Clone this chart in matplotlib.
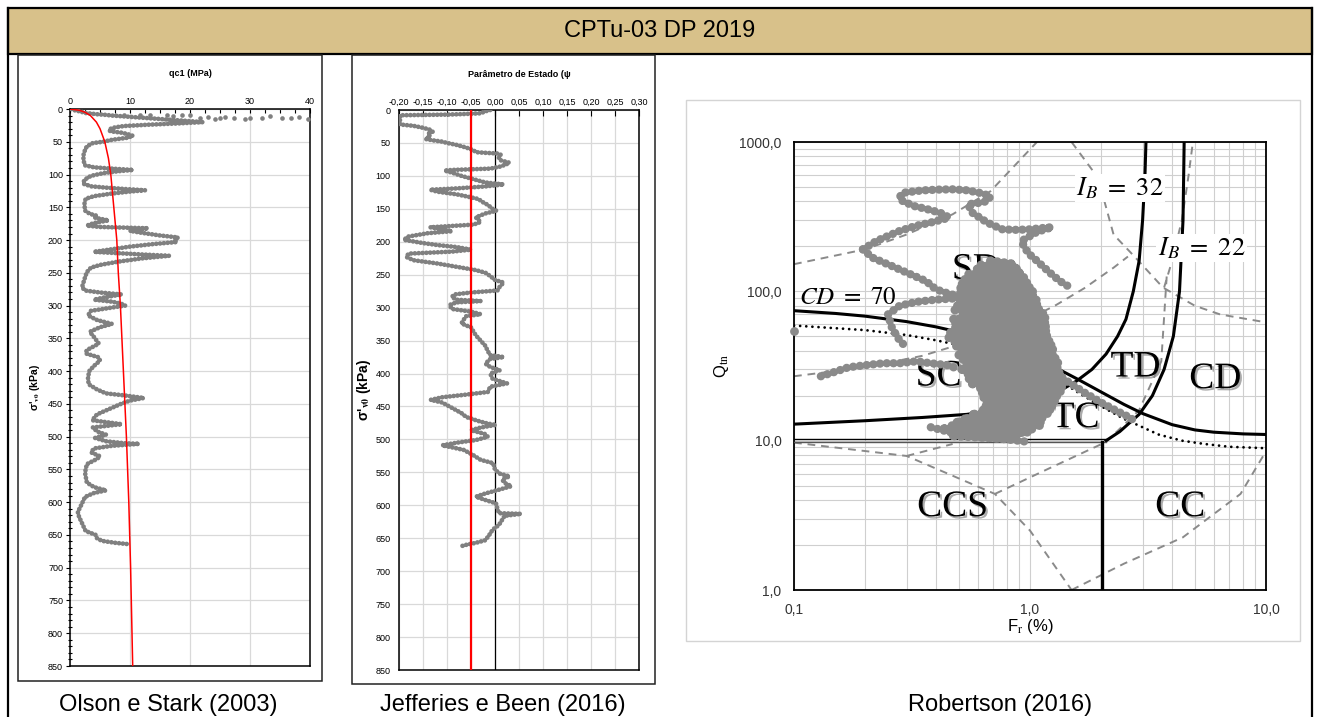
import matplotlib
matplotlib.use("Agg")
import matplotlib.pyplot as plt
import matplotlib.patheffects as pe
from matplotlib.patches import Rectangle

plt.rcParams['font.family'] = ['Liberation Sans', 'DejaVu Sans']
plt.rcParams['mathtext.fontset'] = 'stix'

W, H = 1317, 717
GRAY = '#808080'

# --- Olson e Stark (2003): qc1 (MPa) vs sigma'v0 (kPa) ---
sv_qc = [0, 2, 4, 6, 7, 8, 9, 10, 20, 22, 24, 26, 28, 31, 34, 36, 38, 41, 44, 47, 50, 52, 57, 65,
         72, 80, 86, 89, 91, 93, 95, 98, 102, 108, 114, 118, 120, 122, 124, 126, 129, 133, 137,
         145, 155, 160, 163, 166, 170, 174, 178, 180, 181, 182, 186, 189, 193, 196, 199, 203,
         206, 210, 214, 218, 220, 222, 224, 228, 233, 238, 242, 249, 260, 272, 277, 280, 283,
         287, 291, 294, 297, 300, 303, 308, 315, 322, 328, 333, 340, 348, 358, 368, 373, 379,
         384, 392, 400, 410, 420, 428, 434, 437, 441, 445, 450, 458, 466, 475, 481, 486, 492,
         497, 502, 507, 510, 511, 514, 518, 524, 530, 534, 542, 555, 570, 577, 582, 586, 592,
         602, 615, 622, 634, 644, 650, 655, 659, 662, 664]
qc1 = [0.2, 0.8, 1.8, 2.5, 3.5, 4.5, 6, 7, 22.2, 18, 13, 9, 7.5, 6.5, 6.7, 8.5, 9.5, 10.5, 9.5,
       7, 5.5, 3.8, 2.8, 2.4, 2.2, 2.3, 2.5, 4, 7, 10.5, 8, 5.5, 3.5, 2.4, 2.2, 3.5, 6, 9, 12.5,
       10, 7, 4, 2.6, 2.4, 2.5, 3.3, 4.5, 4.2, 6.4, 4, 2.8, 5, 9, 13, 10, 12, 15, 18, 17.5,
       17.8, 14, 10, 7, 4, 8, 12, 16.5, 12, 8, 5, 3.5, 2.8, 2.4, 2.0, 2.5, 5, 8.6, 6, 4, 7,
       8.5, 9.2, 7, 3.5, 3, 4.5, 7, 5, 3.3, 4, 4.8, 2.8, 2.6, 4.8, 5, 4, 3.2, 3.0, 3.1, 4.5,
       6, 9, 12.3, 10, 8.5, 6.5, 4.5, 3.7, 8.6, 3.8, 4.5, 6, 4.2, 6, 9, 11.5, 7, 4, 3.5, 5,
       4.5, 2.8, 2.5, 2.8, 4, 6, 4, 2.5, 2.0, 1.3, 1.5, 2.1, 2.6, 4.3, 4.5, 5.3, 7.5, 9.7]
surf_qc = [9, 11.7, 13.4, 16.1, 17.2, 18.6, 20, 21.7, 23, 24.2, 25, 25.8, 27.3, 29.2, 30, 32,
           33.3, 35.3, 36.9, 38.1, 39.7]
surf_sv = [9, 9, 9, 9, 10, 9, 9, 14, 12, 16, 13, 12, 14, 15, 13, 14, 11, 14, 13, 12, 15]
# limiting curve
os_sv = [0, 2, 5, 10, 20, 30, 50, 75, 100, 150, 200, 250, 300, 400, 500, 600, 700, 850]
os_qc = [0, 1.6, 2.5, 3.4, 4.4, 5.0, 5.8, 6.4, 6.8, 7.3, 7.8, 8.05, 8.4, 8.9, 9.4, 9.8, 10.1, 10.45]

# --- Jefferies e Been (2016): state parameter psi vs sigma'v0 ---
sv_psi = [0, 2, 5, 6, 7, 7.5, 8, 22, 24, 27, 30, 33, 36, 40, 44, 46, 48, 50, 53, 57, 61, 64, 65,
          66, 68, 72, 76, 80, 83, 86, 89, 90, 91, 92, 95, 100, 105, 110, 113, 116, 119, 121, 124,
          128, 131, 135, 140, 144, 150, 153, 157, 163, 170, 174, 176, 178, 181, 184, 187, 192,
          197, 202, 205, 208, 212, 215, 218, 223, 228, 233, 238, 243, 247, 252, 258, 262, 268,
          274, 277, 280, 284, 288, 290, 292, 296, 302, 306, 310, 313, 318, 324, 330, 336, 342,
          350, 358, 366, 372, 375, 378, 385, 390, 395, 400, 408, 415, 420, 428, 432, 436, 440,
          444, 452, 460, 466, 472, 476, 478, 482, 486, 492, 496, 501, 505, 509, 512, 516, 524,
          531, 536, 546, 552, 556, 561, 566, 571, 576, 582, 587, 592, 597, 605, 612, 613, 616,
          622, 630, 637, 643, 648, 653, 657, 660, 663]
psi = [-0.01, -0.02, -0.03, -0.06, -0.10, -0.15, -0.198, -0.198, -0.17, -0.15, -0.135, -0.13,
       -0.14, -0.135, -0.145, -0.13, -0.11, -0.10, -0.08, -0.06, -0.045, -0.04, -0.02, 0.005,
       0.012, 0.008, 0.01, 0.03, 0.022, 0.01, -0.01, -0.05, -0.09, -0.105, -0.09, -0.07,
       -0.045, -0.02, 0.018, -0.02, -0.08, -0.135, -0.12, -0.08, -0.06, -0.035, -0.025, -0.015,
       -0.005, 0.003, -0.02, -0.04, -0.03, -0.045, -0.09, -0.135, -0.11, -0.09, -0.14, -0.18,
       -0.19, -0.15, -0.12, -0.08, -0.05, -0.09, -0.18, -0.185, -0.17, -0.12, -0.08, -0.04,
       -0.02, -0.01, 0.0, 0.018, 0.01, 0.005, -0.05, -0.085, -0.09, -0.08, -0.03, -0.08,
       -0.095, -0.09, -0.05, -0.03, -0.06, -0.065, -0.07, -0.05, -0.045, -0.04, -0.03, -0.02,
       -0.015, -0.01, 0.018, -0.01, -0.02, -0.01, 0.01, -0.01, -0.005, 0.025, -0.01, -0.015,
       -0.06, -0.11, -0.134, -0.11, -0.09, -0.07, -0.06, -0.035, -0.015, 0.002, -0.03, -0.05,
       -0.02, -0.015, -0.04, -0.08, -0.11, -0.09, -0.065, -0.045, -0.03, -0.004, 0.0, 0.01,
       0.03, 0.015, 0.02, 0.034, 0.01, -0.02, -0.04, -0.02, 0.002, 0.005, 0.008, 0.054, 0.02,
       0.015, 0.008, -0.005, -0.01, -0.015, -0.02, -0.04, -0.06, -0.075]
psi_limit = -0.05

# --- Robertson (2016): Qtn vs Fr chart ---
ib32_fr = [0.1, 0.2, 0.35, 0.54, 0.7, 0.97, 1.3, 1.57, 1.83, 2.1, 2.35, 2.55, 2.74, 2.9, 3.0, 3.07, 3.1]
ib32_q = [12.9, 13.6, 14.3, 15, 16, 18, 21, 25, 30, 38, 50, 65, 100, 160, 300, 600, 1000]
ib22_fr = [2.1, 2.4, 2.9, 3.3, 3.7, 4.05, 4.3, 4.45, 4.5]
ib22_q = [10, 11.5, 15, 20, 30, 50, 100, 300, 1000]
cd70_fr = [0.1, 0.15, 0.2, 0.3, 0.4, 0.5, 0.7, 1.0, 1.3, 1.6, 2.0, 2.5, 3.0, 4.0, 5.0, 6.0, 8.0, 10]
cd70_q = [74.2, 71.1, 68.2, 62.7, 57.8, 53.3, 45.8, 37.0, 30.5, 25.7, 21.2, 17.5, 15.2, 12.8,
          11.8, 11.4, 11.1, 11.0]
dot_fr = [0.1, 0.2, 0.3, 0.4, 0.6, 0.8, 1.0, 1.3, 1.6, 2.0, 2.5, 2.9, 3.5, 4.4, 5.5, 7, 10]
dot_q = [59, 55, 51, 47, 41, 36, 32, 26, 21, 17, 14, 12.6, 11, 10, 9.5, 9.1, 8.9]
zone_fr = [[0.1, 0.2, 0.3, 0.47, 0.68, 0.85, 1.07],
           [1.5, 1.94, 2.26, 2.8, 3.66, 5.0, 6.4, 10],
           [0.1, 0.2, 0.35, 0.6, 1.0, 1.29, 1.7, 2.26, 2.6],
           [3.7, 4.0, 4.4, 4.7, 4.9],
           [0.1, 0.3, 0.71, 1.0, 1.5],
           [1.5, 2.5, 4.44, 7.8, 10],
           [0.71, 1.2, 2.1, 2.9, 3.6, 3.8],
           [0.3, 0.47]]
zone_q = [[152, 191, 240, 328, 468, 680, 1000],
          [1000, 577, 240, 168, 106, 80, 70, 62],
          [27, 31, 37, 48, 66, 81, 105, 144, 171],
          [106, 160, 300, 600, 1000],
          [9.7, 7.9, 4.4, 2.5, 1.0],
          [1.0, 1.5, 2.25, 4.4, 8.5],
          [4.4, 6.5, 9.8, 16, 34, 130],
          [7.9, 9.5]]
zone_names = ['SD', 'SC', 'TD', 'CD', 'TC', 'CCS', 'CC']
zone_lab_fr = [0.59, 0.41, 2.8, 6.1, 1.56, 0.47, 4.33]
zone_lab_q = [140, 27, 31, 25.9, 14.2, 3.6, 3.6]

# CPTu-03 points in Robertson chart: sequential trails and the main cluster
trail_fr = [[0.196, 0.223, 0.279, 0.33, 0.377, 0.453, 0.43, 0.38, 0.324, 0.29, 0.279, 0.289, 0.349,
             0.41, 0.47, 0.54, 0.61, 0.68, 0.66, 0.6, 0.546, 0.57, 0.66, 0.764, 0.88, 0.995, 1.12,
             1.24, 1.07, 0.92, 0.95, 0.995, 1.07, 1.15, 1.25, 1.34, 1.44],
            [0.196, 0.215, 0.259, 0.312, 0.363, 0.391, 0.42, 0.47, 0.5],
            [0.5, 0.4, 0.33, 0.28, 0.25, 0.26, 0.28, 0.3],
            [0.13, 0.15, 0.17, 0.2, 0.24, 0.28, 0.33, 0.38, 0.45, 0.5],
            [1.3, 1.44, 1.7, 2.0, 2.3, 2.6, 2.8],
            [0.38, 0.5, 0.65, 0.8, 0.99]]
trail_q = [[191, 217, 253, 275, 288, 311, 330, 350, 372, 400, 423, 457, 474, 480, 482, 475, 457,
            434, 402, 390, 383, 336, 288, 260, 258, 260, 265, 269, 250, 217, 195, 177, 160, 144,
            128, 117, 109],
           [191, 168, 148, 130, 117, 106, 100, 95, 90],
           [90, 88, 85, 80, 70, 57, 47, 42],
           [27, 29, 31, 32, 33, 33, 34, 33, 32, 30],
           [28, 25, 21, 18, 16, 14.5, 13.5],
           [12.3, 11, 10.5, 10.2, 9.8]]
single_fr = [0.1]
single_q = [54]
# cluster outline, read level by level (two interleaved passes)
blob_q = [160, 140, 120, 105, 92, 80, 70, 61, 53, 46, 40, 35, 30, 26, 22.5, 19.5, 17, 15, 13.3, 12, 10.8]
blob_left = [0.68, 0.58, 0.53, 0.5, 0.47, 0.49, 0.52, 0.47, 0.45, 0.47, 0.5, 0.52, 0.5, 0.55,
             0.6, 0.62, 0.64, 0.56, 0.48, 0.42, 0.46]
blob_right = [0.86, 0.93, 0.98, 1.03, 1.08, 1.12, 1.16, 1.18, 1.2, 1.24, 1.28, 1.32, 1.36, 1.4,
              1.36, 1.3, 1.22, 1.16, 1.1, 0.98, 0.85]
blob2_q = [150, 130, 112, 98, 86, 75, 65, 57, 49, 43, 37.5, 32.5, 28, 24, 21, 18, 16, 14, 12.6, 11.4]
blob2_left = [0.62, 0.55, 0.51, 0.5, 0.5, 0.48, 0.47, 0.47, 0.45, 0.48, 0.5, 0.53, 0.53, 0.57,
              0.62, 0.64, 0.62, 0.52, 0.46, 0.5]
blob2_right = [0.9, 0.96, 1.0, 1.06, 1.1, 1.14, 1.17, 1.19, 1.22, 1.26, 1.3, 1.34, 1.38, 1.38,
               1.33, 1.26, 1.2, 1.13, 1.03, 0.93]


def px_axes(fig, x0, y0, x1, y1):
    return fig.add_axes([x0 / W, 1 - y1 / H, (x1 - x0) / W, (y1 - y0) / H])


def beads(ax, x, y, lw, gap, color=GRAY, z=5):
    # dense scatter of CPT readings drawn as a chain of round dots along the profile
    ax.plot(x, y, color=color, lw=lw, ls=(0, (0.01, gap)), dash_capstyle='round',
            solid_capstyle='round', zorder=z, clip_on=True)


def comma(v, nd):
    return f"{v:.{nd}f}".replace('.', ',')


fig = plt.figure(figsize=(W / 100, H / 100), dpi=100)

# frame, header and captions
bg = fig.add_axes([0, 0, 1, 1])
bg.set_xlim(0, W)
bg.set_ylim(H, 0)
bg.axis('off')
bg.add_patch(Rectangle((8, 8), 1304, 46, facecolor='#D8C18A', edgecolor='black', lw=1.6))
bg.plot([8, 8], [8, H], color='black', lw=1.6)
bg.plot([1312, 1312], [8, H], color='black', lw=1.6)
bg.add_patch(Rectangle((18, 55), 304, 626, fill=False, edgecolor='#222222', lw=1.1))
bg.add_patch(Rectangle((352, 55), 303, 629, fill=False, edgecolor='#222222', lw=1.1))
bg.add_patch(Rectangle((686, 100), 614, 541, fill=False, edgecolor='#d4d4d4', lw=1.0))
bg.text(660, 31, 'CPTu-03 DP 2019', ha='center', va='center', fontsize=17)
bg.text(168, 711, 'Olson e Stark (2003)', ha='center', va='baseline', fontsize=17)
bg.text(503, 711, 'Jefferies e Been (2016)', ha='center', va='baseline', fontsize=17)
bg.text(1000, 711, 'Robertson (2016)', ha='center', va='baseline', fontsize=17)

# panel 1
ax1 = px_axes(fig, 70, 109, 310, 666)
ax1.set_xlim(0, 40)
ax1.set_ylim(850, 0)
ax1.xaxis.tick_top()
ax1.set_xticks(range(0, 41, 10))
ax1.set_xticks([v * 2.5 for v in range(17)], minor=True)
ax1.set_yticks(range(0, 851, 50))
ax1.set_yticks(range(0, 851, 10), minor=True)
ax1.tick_params(axis='x', which='both', direction='in', length=3, width=0.8, labelsize=6.5, pad=2)
ax1.tick_params(axis='y', which='major', direction='out', length=3, width=0.8, labelsize=6.5, pad=2)
ax1.tick_params(axis='y', which='minor', direction='inout', length=3, width=0.8)
ax1.grid(True, which='major', color='#d9d9d9', lw=0.9)
ax1.set_axisbelow(True)
for s in ax1.spines.values():
    s.set_linewidth(1.1)
beads(ax1, qc1, sv_qc, 3.4, 0.8)
ax1.scatter(surf_qc, surf_sv, s=11, color=GRAY, lw=0, zorder=5, clip_on=False)
ax1.plot(os_qc, os_sv, color='red', lw=1.1, zorder=6)
ax1.set_title('qc1 (MPa)', fontsize=6.5, fontweight='bold', pad=24)
ax1.set_ylabel(r"σ'$_{\mathbf{v0}}$ (kPa)", fontsize=7.5, fontweight='bold', labelpad=4)

# panel 2
ax2 = px_axes(fig, 399, 110, 639, 670)
ax2.set_xlim(-0.2, 0.3)
ax2.set_ylim(850, 0)
ax2.xaxis.tick_top()
xt = [-0.2 + 0.05 * i for i in range(11)]
ax2.set_xticks(xt)
ax2.set_xticklabels([comma(v + 0.0, 2) for v in xt])
ax2.set_yticks(range(0, 851, 50))
ax2.tick_params(axis='x', direction='in', length=4, width=0.8, labelsize=6.5, pad=2)
ax2.tick_params(axis='y', length=0, labelsize=6.5, pad=6)
ax2.grid(True, color='#d9d9d9', lw=0.9)
ax2.set_axisbelow(True)
for s in ax2.spines.values():
    s.set_linewidth(1.1)
ax2.axvline(0, color='black', lw=0.9, zorder=3)
beads(ax2, psi, sv_psi, 3.4, 0.8)
ax2.axvline(psi_limit, color='red', lw=1.6, zorder=6)
ax2.set_title('Parâmetro de Estado (ψ', fontsize=6.5, fontweight='bold', pad=24)
ax2.set_ylabel(r"σ'$_{\mathbf{v0}}$ (kPa)", fontsize=10, fontweight='bold', labelpad=2)

# panel 3
ax3 = px_axes(fig, 794, 142, 1266, 590)
ax3.set_xscale('log')
ax3.set_yscale('log')
ax3.set_xlim(0.1, 10)
ax3.set_ylim(1, 1000)
ax3.set_xticks([0.1, 1, 10])
ax3.set_xticklabels(['0,1', '1,0', '10,0'])
ax3.set_yticks([1, 10, 100, 1000])
ax3.set_yticklabels(['1,0', '10,0', '100,0', '1000,0'])
ax3.tick_params(which='both', length=0, labelsize=10, labelcolor='#333333', pad=9)
ax3.grid(True, which='both', color='#cfcfcf', lw=0.8)
ax3.set_axisbelow(True)
for s in ax3.spines.values():
    s.set_linewidth(1.3)
ax3.set_xlabel(r'F$_{\rm r}$ (%)', fontsize=12, labelpad=0)
ax3.set_ylabel(r'Q$_{\rm tn}$', fontsize=12, labelpad=6)

for fx, qy in zip(zone_fr, zone_q):
    ax3.plot(fx, qy, color='#8a8a8a', lw=1.4, ls=(0, (4, 3)), zorder=2)
ax3.plot(ib32_fr, ib32_q, color='black', lw=2.2, zorder=3)
ax3.plot(ib22_fr, ib22_q, color='black', lw=2.2, zorder=3)
ax3.plot(cd70_fr, cd70_q, color='black', lw=2.2, zorder=3)
ax3.plot(dot_fr, dot_q, color='black', lw=2.0, ls=(0, (0.01, 2.2)), dash_capstyle='round', zorder=3)
ax3.plot([0.1, 2.1], [10.3, 10.3], color='black', lw=1.0, zorder=3)
ax3.plot([0.1, 2.1], [9.75, 9.75], color='#555555', lw=1.0, zorder=3)
ax3.plot([2.02, 2.02], [1, 9.8], color='black', lw=2.4, zorder=3)

shadow = [pe.SimplePatchShadow(offset=(1.5, -1.5), shadow_rgbFace='#888888', alpha=0.7), pe.Normal()]
for name, fx, qy in zip(zone_names, zone_lab_fr, zone_lab_q):
    ax3.text(fx, qy, name, ha='center', va='center', fontsize=27, family='Liberation Serif',
             path_effects=shadow, zorder=4)
ib_box = dict(facecolor='white', edgecolor='none', pad=1)
ax3.text(2.4, 490, r'$\mathit{I_B\ =\ 32}$', ha='center', va='center', fontsize=19, bbox=ib_box, zorder=4)
ax3.text(5.33, 194, r'$\mathit{I_B\ =\ 22}$', ha='center', va='center', fontsize=19, bbox=ib_box, zorder=4)
ax3.text(0.105, 91, r'$\mathit{CD\ =\ 70}$', ha='left', va='center', fontsize=18, zorder=4)

# CPTu data on the chart
for fx, qy in zip(trail_fr, trail_q):
    beads(ax3, fx, qy, 6.0, 0.8, color='#8a8a8a', z=6)
for lq, lft, rgt in ((blob_q, blob_left, blob_right), (blob2_q, blob2_left, blob2_right)):
    zig_fr, zig_q = [], []
    for q, l, r in zip(lq, lft, rgt):
        zig_fr += [l, r]
        zig_q += [q, q * 0.95]
    beads(ax3, zig_fr, zig_q, 6.5, 0.75, color='#8a8a8a', z=6)
ax3.scatter(single_fr, single_q, s=40, color='#8a8a8a', lw=0, zorder=6, clip_on=False)

fig.savefig('out.png', dpi=100)
